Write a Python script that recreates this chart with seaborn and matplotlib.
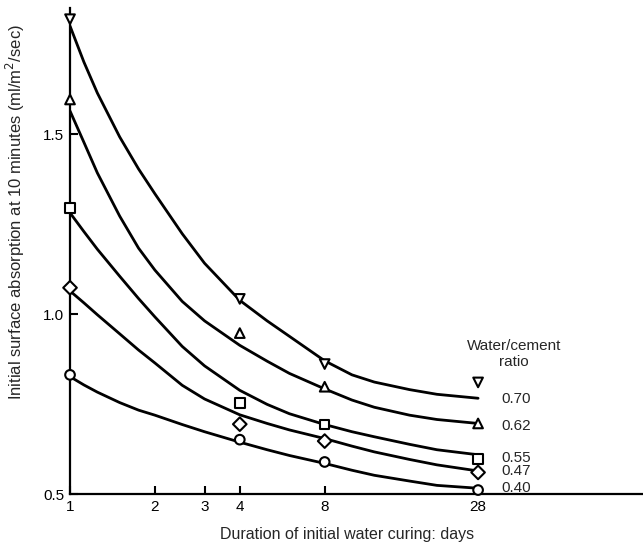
import matplotlib
matplotlib.use("Agg")
import matplotlib.pyplot as plt
import seaborn as sns
import pandas as pd
from matplotlib.ticker import FixedLocator, NullLocator

sns.set_style("ticks")
plt.rcParams['font.family'] = ['Liberation Sans', 'DejaVu Sans']

# water/cement ratios and their symbols
ratios = ['0.70', '0.62', '0.55', '0.47', '0.40']
symbols = ['v', '^', 's', 'D', 'o']

# measured points (days of curing -> ISA-10)
test_days = [1, 4, 8, 28]
points_070 = [1.819, 1.042, 0.861, 0.810]
points_062 = [1.596, 0.947, 0.798, 0.696]
points_055 = [1.295, 0.752, 0.693, 0.597]
points_047 = [1.073, 0.694, 0.647, 0.560]
points_040 = [0.831, 0.651, 0.589, 0.511]

# fitted curves
curve_days = [1, 1.12, 1.25, 1.5, 1.75, 2, 2.5, 3, 4, 5, 6, 8, 10, 12, 16, 20, 28]
curve_070 = [1.800, 1.700, 1.614, 1.492, 1.403, 1.334, 1.223, 1.141, 1.038, 0.981,
             0.938, 0.870, 0.831, 0.811, 0.790, 0.777, 0.766]
curve_062 = [1.564, 1.477, 1.392, 1.272, 1.183, 1.122, 1.035, 0.981, 0.913, 0.869,
             0.835, 0.792, 0.761, 0.741, 0.719, 0.707, 0.696]
curve_055 = [1.281, 1.229, 1.180, 1.105, 1.043, 0.992, 0.910, 0.856, 0.788, 0.749,
             0.723, 0.693, 0.673, 0.659, 0.638, 0.623, 0.609]
curve_047 = [1.064, 1.031, 0.998, 0.945, 0.900, 0.864, 0.802, 0.764, 0.720, 0.696,
             0.678, 0.654, 0.633, 0.617, 0.596, 0.581, 0.564]
curve_040 = [0.826, 0.803, 0.783, 0.754, 0.733, 0.719, 0.693, 0.673, 0.644, 0.623,
             0.607, 0.585, 0.566, 0.552, 0.536, 0.524, 0.516]

# where the ratio labels sit on the right
label_levels = [0.763, 0.689, 0.601, 0.564, 0.516]

all_points = [points_070, points_062, points_055, points_047, points_040]
all_curves = [curve_070, curve_062, curve_055, curve_047, curve_040]

pts = pd.DataFrame({
    'days': test_days * len(ratios),
    'isa': [v for p in all_points for v in p],
    'ratio': [r for r in ratios for _ in test_days],
})
curves = pd.DataFrame({
    'days': curve_days * len(ratios),
    'isa': [v for c in all_curves for v in c],
    'ratio': [r for r in ratios for _ in curve_days],
})

fig = plt.figure(figsize=(6.43, 5.5), dpi=100)
ax = fig.add_axes([0.1089, 0.1018, 0.891, 0.8836])

sns.lineplot(data=curves, x='days', y='isa', units='ratio', estimator=None,
             color='black', lw=2.0, ax=ax, legend=False)
sns.scatterplot(data=pts, x='days', y='isa', style='ratio',
                markers=dict(zip(ratios, symbols)), color='white',
                edgecolor='black', linewidth=1.5, s=48, ax=ax,
                legend=False, zorder=4, clip_on=False)

ax.set_xscale('log')
ax.set_xlim(1, 107.6)
ax.set_ylim(0.5, 1.85)
ax.xaxis.set_major_locator(FixedLocator([1, 2, 3, 4, 8, 28]))
ax.xaxis.set_minor_locator(NullLocator())
ax.set_xticklabels(['1', '2', '3', '4', '8', '28'])
ax.set_yticks([0.5, 1.0, 1.5])
ax.set_yticklabels(['0.5', '1.0', '1.5'])
ax.tick_params(direction='in', length=6, width=1.5, labelsize=11,
               color='black', labelcolor='black', pad=4)

sns.despine(ax=ax)
for s in ['left', 'bottom']:
    ax.spines[s].set_linewidth(1.6)
    ax.spines[s].set_color('black')

ax.set_xlabel('Duration of initial water curing: days', fontsize=11.5)
ax.xaxis.set_label_coords(0.483, -0.068)
ax.set_ylabel('Initial surface absorption at 10 minutes (ml/m$^2$/sec)', fontsize=12)
ax.yaxis.set_label_coords(-0.075, 0.58)

ax.text(37.5, 0.89, 'Water/cement\nratio', ha='center', va='center',
        fontsize=11, linespacing=1.2)
for lab, yv in zip(ratios, label_levels):
    ax.text(33.8, yv, lab, ha='left', va='center', fontsize=11)

fig.savefig('out.png', dpi=100)
